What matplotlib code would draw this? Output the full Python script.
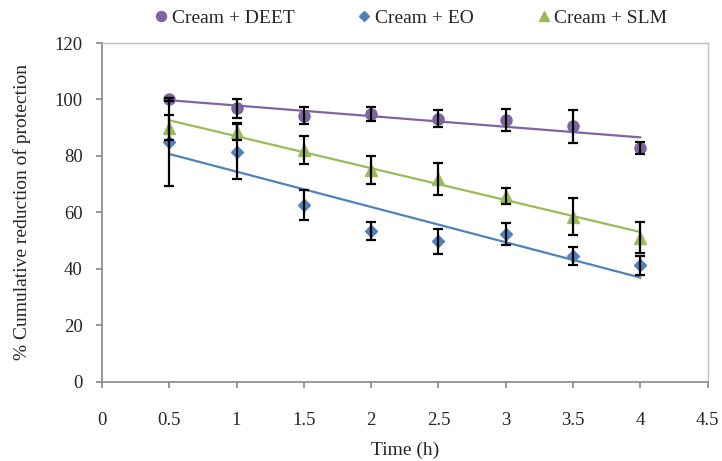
import numpy as np
import matplotlib
matplotlib.use("Agg")
import matplotlib.pyplot as plt
from matplotlib.lines import Line2D

plt.rcParams['font.family'] = ['Liberation Serif', 'DejaVu Serif']

# time points (h)
time_h = [0.5, 1, 1.5, 2, 2.5, 3, 3.5, 4]

# % cumulative reduction of protection, with error bars
deet = [100, 96.8, 94.3, 94.8, 93.2, 92.8, 90.5, 82.8]
deet_err = [0.5, 3.3, 3.0, 2.6, 2.9, 3.8, 5.8, 2.2]

eo = [85, 81.5, 62.5, 53.5, 49.7, 52.3, 44.5, 41.3]
eo_err = [15.5, 9.8, 5.3, 3.2, 4.3, 3.8, 3.3, 3.4]

slm = [90, 88.5, 82, 75, 71.8, 65.8, 58.5, 51]
slm_err = [4.5, 3.0, 5.0, 5.0, 5.7, 3.0, 6.5, 5.5]

labels = ["Cream + DEET", "Cream + EO", "Cream + SLM"]
colors = ["#8064A2", "#4F81BD", "#9BBB59"]
markers = ["o", "D", "^"]
msizes = [8, 6, 8]

fig = plt.figure(figsize=(7.22, 4.61), dpi=100)
ax = fig.add_axes([0.1413, 0.172, 0.8387, 0.7347])

x = np.array(time_h)
series = [(deet, deet_err), (eo, eo_err), (slm, slm_err)]
for (vals, errs), col, mk, ms in zip(series, colors, markers, msizes):
    vals = np.array(vals)
    # linear trend line like Excel
    k, b = np.polyfit(x, vals, 1)
    ax.plot(x, k * x + b, color=col, lw=1.6, zorder=2)
    ax.plot(x, vals, linestyle="none", marker=mk, ms=ms, color=col,
            markeredgecolor=col, zorder=3)
    ax.errorbar(x, vals, yerr=errs, fmt="none", ecolor="black",
                elinewidth=1.6, capsize=3.3, capthick=1.6, zorder=4)

ax.set_xlim(0, 4.5)
ax.set_ylim(0, 120)
ax.set_xticks(np.arange(0, 4.51, 0.5))
ax.set_xticklabels(["0", "0.5", "1", "1.5", "2", "2.5", "3", "3.5", "4", "4.5"])
ax.set_yticks(np.arange(0, 121, 20))

for side in ["left", "bottom"]:
    ax.spines[side].set_color("#868686")
    ax.spines[side].set_linewidth(1.2)
for side in ["top", "right"]:
    ax.spines[side].set_color("#BFBFBF")
    ax.spines[side].set_linewidth(1.0)

ax.tick_params(axis="both", colors="#868686", labelcolor="#262626",
               labelsize=13.5, length=4, width=1.2)
ax.tick_params(axis="x", direction="out", pad=18)
ax.tick_params(axis="y", direction="out", pad=10)

ax.set_xlabel("Time (h)", fontsize=14, labelpad=9, color="#262626")
ax.set_ylabel("% Cumulative reduction of protection", fontsize=14,
              labelpad=17, color="#262626")

handles = [Line2D([], [], linestyle="none", marker=mk, ms=ms * 0.9, color=col)
           for col, mk, ms in zip(colors, markers, msizes)]
fig.legend(handles, labels, loc="upper center", bbox_to_anchor=(0.567, 1.018),
           ncol=3, frameon=False, fontsize=14, handletextpad=0.05,
           columnspacing=3.1, handlelength=1.0, labelcolor="#262626")

fig.savefig("out.png", dpi=100)
